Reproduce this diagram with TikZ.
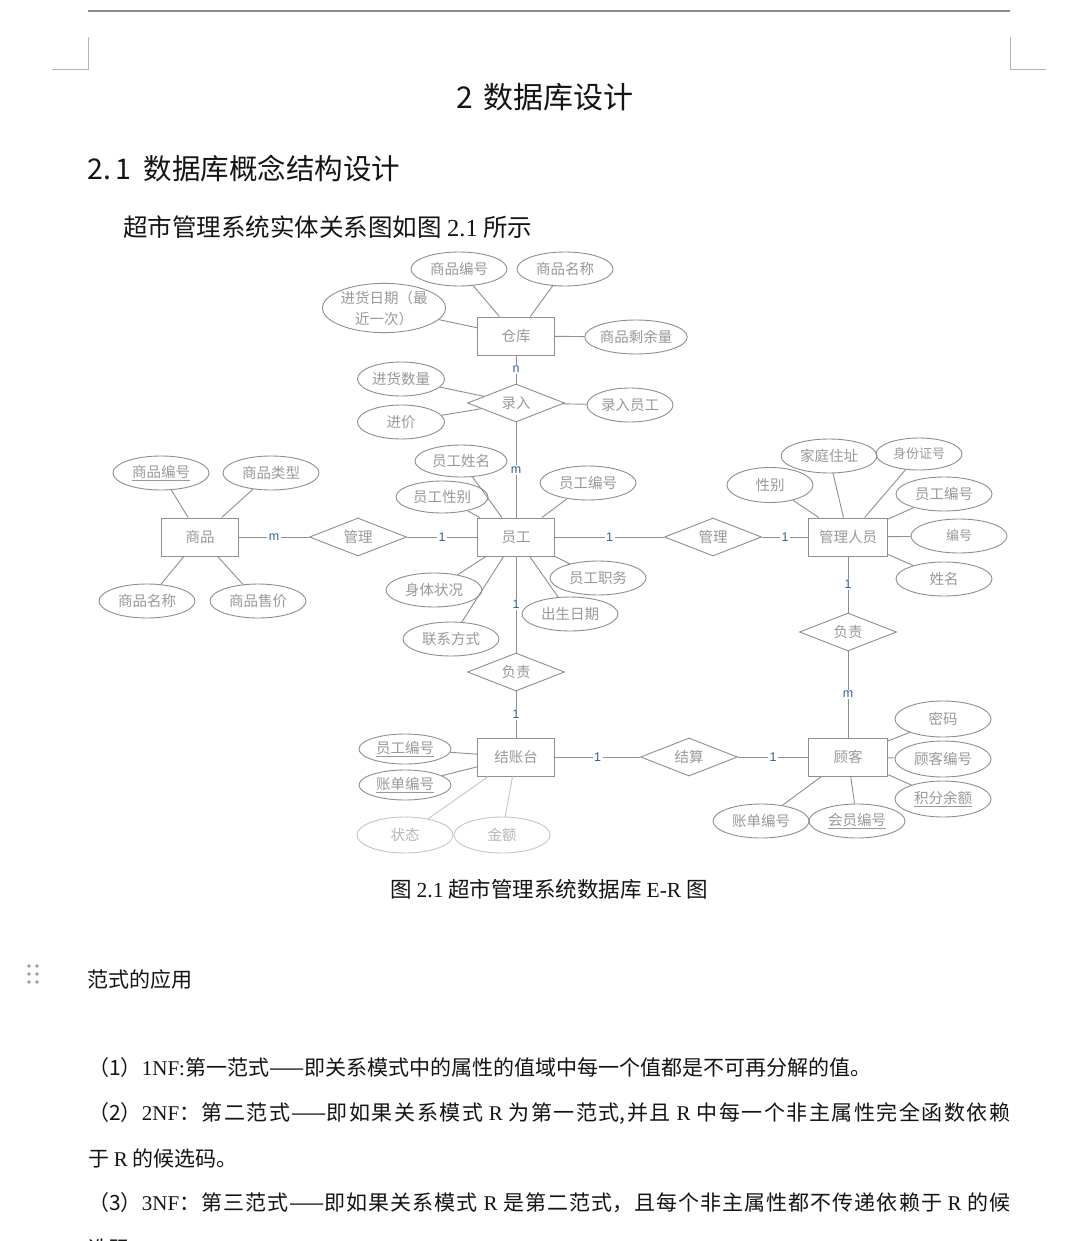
\documentclass[tikz,border=0pt]{standalone}
\usepackage{fontspec}
\setmainfont{Liberation Serif}
\newfontfamily\cjk{Noto Sans CJK SC}
\newfontfamily\latsans{Liberation Sans}
\usetikzlibrary{shapes.geometric}
\definecolor{erline}{HTML}{8E8E8E}
\definecolor{ertext}{HTML}{999999}
\definecolor{erfaint}{HTML}{C6C6C6}
\definecolor{faintink}{HTML}{B6B6B6}
\definecolor{cardblue}{HTML}{2F5F96}
\definecolor{rulegray}{HTML}{8A8A8A}
\definecolor{markgray}{HTML}{B4B4B4}
\definecolor{bodyink}{HTML}{141414}
\XeTeXlinebreaklocale "zh"
\XeTeXlinebreakskip=0pt plus 3pt minus 1pt
\newcommand{\lat}[1]{{\rmfamily #1}}

\begin{document}
\begin{tikzpicture}[x=1pt,y=-1pt,
 ent/.style={draw=erline,line width=1pt,minimum width=77pt,minimum height=38pt,inner sep=0pt,text=ertext,font=\cjk\fontsize{14.5}{17}\selectfont},
 attr/.style={ellipse,draw=erline,line width=0.9pt,minimum width=96pt,minimum height=34pt,inner sep=0pt,text=ertext,font=\cjk\fontsize{14.5}{17}\selectfont},
 faint/.style={draw=erfaint,text=faintink},
 rel/.style={diamond,aspect=2.5,draw=erline,line width=0.9pt,minimum width=97pt,minimum height=38pt,inner sep=0pt,text=ertext,font=\cjk\fontsize{14.5}{17}\selectfont},
 link/.style={draw=erline,line width=0.9pt},
 mult/.style={fill=white,inner sep=1.5pt,text=cardblue,font=\latsans\fontsize{12.5}{14}\selectfont},
 doc/.style={anchor=west,inner sep=0pt,text=bodyink,font=\cjk\fontsize{21}{25}\selectfont}]
\fill[white] (0,0) rectangle (1080,1241);
\useasboundingbox (0,0) rectangle (1080,1241);

\draw[rulegray,line width=1.3pt] (88,11) -- (1010,11);
\draw[markgray,line width=1pt] (88,37) -- (88,70) -- (52,70);
\draw[markgray,line width=1pt] (1010,37) -- (1010,70) -- (1046,70);

\node[doc,anchor=center,font=\cjk\fontsize{30}{34}\selectfont] (title) at (545,97) {2\hspace{10pt}数据库设计};
\node[doc,font=\cjk\fontsize{28.5}{33}\selectfont] (sect) at (87,168) {2.\hspace{5pt}1\hspace{12pt}数据库概念结构设计};
\node[doc,font=\cjk\fontsize{24.5}{29}\selectfont] (intro) at (123,227) {超市管理系统实体关系图如图 \lat{2.1} 所示};

\node[ent] (wh) at (516,336) {仓库};
\node[ent] (emp) at (516,537) {员工};
\node[ent] (goods) at (200,537) {商品};
\node[ent,minimum width=79pt] (mgr) at (848,537) {管理人员};
\node[ent] (desk) at (516,757) {结账台};
\node[ent,minimum width=79pt] (cust) at (848,757) {顾客};

\node[rel] (entry) at (516,403) {录入};
\node[rel] (mnggoods) at (358,537) {管理};
\node[rel] (mngmgr) at (713,537) {管理};
\node[rel] (respemp) at (516,672) {负责};
\node[rel] (respmgr) at (848,632) {负责};
\node[rel] (settle) at (689,757) {结算};

\node[attr] (whno) at (459,269) {商品编号};
\node[attr] (whname) at (565,269) {商品名称};
\node[attr,minimum width=122pt,minimum height=49pt,align=center,font=\cjk\fontsize{14.5}{21}\selectfont] (whdate) at (384,308) {进货日期（最\\近一次）};
\node[attr] (whrest) at (636,337) {商品剩余量};
\node[attr,minimum width=87pt] (entqty) at (401,379) {进货数量};
\node[attr,minimum width=87pt] (entprice) at (401,422) {进价};
\node[attr,minimum width=86pt] (entemp) at (630,405) {录入员工};

\node[attr] (gno) at (161,473) {\underline{商品编号}};
\node[attr] (gtype) at (271,473) {商品类型};
\node[attr] (gname) at (147,601) {商品名称};
\node[attr] (gprice) at (258,601) {商品售价};

\node[attr,minimum width=92pt,minimum height=32pt] (ename) at (461,461) {员工姓名};
\node[attr,minimum width=92pt,minimum height=32pt] (esex) at (442,497) {员工性别};
\node[attr] (eno) at (588,483) {员工编号};
\node[attr] (ehealth) at (434,590) {身体状况};
\node[attr] (etel) at (451,639) {联系方式};
\node[attr] (ejob) at (598,578) {员工职务};
\node[attr] (ebirth) at (570,614) {出生日期};

\node[attr] (maddr) at (829,456) {家庭住址};
\node[attr,minimum width=86pt,minimum height=32pt,font=\cjk\fontsize{13}{15}\selectfont] (mid) at (919,454) {身份证号};
\node[attr,minimum width=86pt,minimum height=35pt] (msex) at (770,485) {性别};
\node[attr] (meno) at (944,494) {员工编号};
\node[attr,font=\cjk\fontsize{13}{15}\selectfont] (mno) at (959,536) {编号};
\node[attr] (mname) at (944,579) {姓名};

\node[attr,minimum width=92pt,minimum height=30pt] (deno) at (405,749) {\underline{员工编号}};
\node[attr,minimum width=92pt,minimum height=30pt] (dbill) at (405,785) {\underline{账单编号}};
\node[attr,faint,minimum height=36pt] (dstate) at (405,835) {状态};
\node[attr,faint,minimum height=36pt] (dsum) at (502,835) {金额};

\node[attr,minimum height=36pt] (cpwd) at (943,719) {密码};
\node[attr,minimum height=36pt] (cno) at (943,759) {顾客编号};
\node[attr,minimum height=36pt] (cpts) at (943,799) {\underline{积分余额}};
\node[attr] (cbill) at (761,821) {账单编号};
\node[attr] (cmem) at (857,821) {\underline{会员编号}};

\draw[link] (wh) -- node[mult] {n} (entry);
\draw[link] (entry) -- node[mult] {m} (emp);
\draw[link] (goods) -- node[mult] {m} (mnggoods);
\draw[link] (mnggoods) -- node[mult] {1} (emp);
\draw[link] (emp) -- node[mult] {1} (mngmgr);
\draw[link] (mngmgr) -- node[mult] {1} (mgr);
\draw[link] (emp) -- node[mult] {1} (respemp);
\draw[link] (respemp) -- node[mult] {1} (desk);
\draw[link] (mgr) -- node[mult] {1} (respmgr);
\draw[link] (respmgr) -- node[mult] {m} (cust);
\draw[link] (desk) -- node[mult] {1} (settle);
\draw[link] (settle) -- node[mult] {1} (cust);

\draw[link] (whno) -- (wh); \draw[link] (whname) -- (wh);
\draw[link] (whdate) -- (wh); \draw[link] (whrest) -- (wh);
\draw[link] (entqty) -- (entry); \draw[link] (entprice) -- (entry);
\draw[link] (entemp) -- (entry);
\draw[link] (gno) -- (goods); \draw[link] (gtype) -- (goods);
\draw[link] (gname) -- (goods); \draw[link] (gprice) -- (goods);
\draw[link] (ename) -- (emp); \draw[link] (esex) -- (emp);
\draw[link] (eno) -- (emp); \draw[link] (ehealth) -- (emp);
\draw[link] (etel) -- (emp); \draw[link] (ejob) -- (emp);
\draw[link] (ebirth) -- (emp);
\draw[link] (maddr) -- (mgr); \draw[link] (mid) -- (mgr);
\draw[link] (msex) -- (mgr); \draw[link] (meno) -- (mgr);
\draw[link] (mno) -- (mgr); \draw[link] (mname) -- (mgr);
\draw[link] (deno) -- (desk); \draw[link] (dbill) -- (desk);
\draw[link,erfaint] (dstate) -- (desk); \draw[link,erfaint] (dsum) -- (desk);
\draw[link] (cpwd) -- (cust); \draw[link] (cno) -- (cust);
\draw[link] (cpts) -- (cust); \draw[link] (cbill) -- (cust);
\draw[link] (cmem) -- (cust);

\node[doc,anchor=center,font=\cjk\fontsize{21.5}{25}\selectfont] (caption) at (549,889) {图 \lat{2.1} 超市管理系统数据库 \lat{E-R} 图};

\fill[gray!80] (29,966) circle (1.8pt) (37,966) circle (1.8pt) (29,974) circle (1.8pt)
 (37,974) circle (1.8pt) (29,982) circle (1.8pt) (37,982) circle (1.8pt);
\node[doc] (nfhead) at (87,979) {范式的应用};
\node[doc] (nf1) at (88,1068) {（1）\lat{1NF:}第一范式——即关系模式中的属性的值域中每一个值都是不可再分解的值。};
\node[doc,text width=922pt,align=justify] (nf2) at (88,1113) {\noindent\parfillskip=0pt\relax （2）\lat{2NF}：第二范式——即如果关系模式 \lat{R} 为第一范式,并且 \lat{R} 中每一个非主属性完全函数依赖\par};
\node[doc] (nf2b) at (88,1158) {于 \lat{R} 的候选码。};
\node[doc,text width=922pt,align=justify] (nf3) at (88,1203) {\noindent\parfillskip=0pt\relax （3）\lat{3NF}：第三范式——即如果关系模式 \lat{R} 是第二范式，且每个非主属性都不传递依赖于 \lat{R} 的候\par};
\node[doc] (nf3b) at (88,1249) {选码。};
\end{tikzpicture}
\end{document}
